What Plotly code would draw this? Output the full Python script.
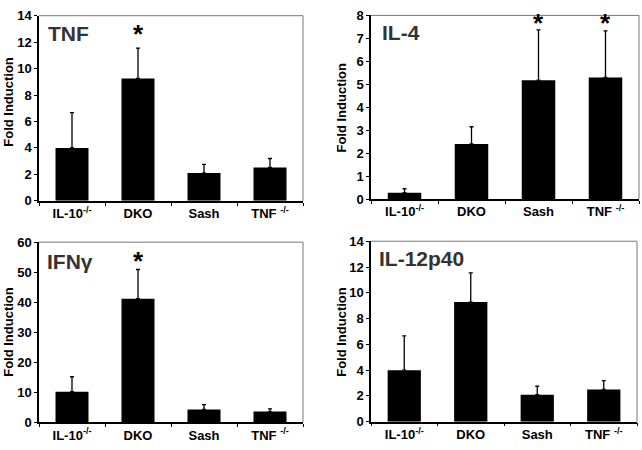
import plotly.graph_objects as go

categories = ["IL-10<sup>-/-</sup>", "DKO", "Sash", "TNF <sup>-/-</sup>"]

tnf_mean = [4.0, 9.25, 2.1, 2.52]
tnf_err_top = [6.67, 11.55, 2.75, 3.2]

il4_mean = [0.28, 2.4, 5.18, 5.3]
il4_err_top = [0.45, 3.15, 7.37, 7.33]

ifng_mean = [10.2, 41.2, 4.3, 3.6]
ifng_err_top = [15.2, 50.9, 5.9, 4.5]

il12_mean = [4.0, 9.28, 2.1, 2.5]
il12_err_top = [6.65, 11.55, 2.75, 3.18]

panel_titles = ["TNF", "IL-4", "IFN\u03b3", "IL-12p40"]
y_ranges = [[0, 14], [0, 8], [0, 60], [0, 14]]
y_dticks = [2, 1, 10, 2]
star_positions = [[("DKO", 12.6)], [("Sash", 7.65), ("TNF <sup>-/-</sup>", 7.65)], [("DKO", 53.8)], []]

W, H = 642, 450
# pixel boxes: left, right, top, bottom
boxes = [(39, 303, 9, 200.5), (371, 639, 8.7, 198.7), (39, 303, 243.3, 429.7), (371, 637, 242.3, 429)]
title_px = [(46, 13), (380, 12), (45, 249), (377, 246)]
ytitle_px = [(9, 98), (342, 104), (9, 336), (342, 336)]

means = [tnf_mean, il4_mean, ifng_mean, il12_mean]
tops = [tnf_err_top, il4_err_top, ifng_err_top, il12_err_top]

FONT = "Liberation Sans, Arial, sans-serif"

fig = go.Figure()
annotations = []
shapes = []
layout = {}
for i in range(4):
    sfx = "" if i == 0 else str(i + 1)
    xa, ya = "x" + sfx, "y" + sfx
    l, r, t, b = boxes[i]
    err = [tp - m for tp, m in zip(tops[i], means[i])]
    fig.add_trace(go.Bar(
        x=categories, y=means[i], xaxis=xa, yaxis=ya,
        marker=dict(color="black", line=dict(width=0)),
        width=0.5,
        error_y=dict(type="data", symmetric=False, array=err, arrayminus=[0] * 4,
                     color="black", thickness=1.3, width=2),
        showlegend=False,
    ))
    layout["xaxis" + sfx] = dict(
        domain=[l / W, r / W], anchor=ya, range=[-0.5, 3.5],
        showline=True, linecolor="black", linewidth=1.5,
        ticks="outside", tickson="boundaries", ticklen=3, tickcolor="black",
        tickfont=dict(family=FONT, size=13, color="black", weight="bold"),
        showgrid=False, fixedrange=True,
    )
    layout["yaxis" + sfx] = dict(
        domain=[1 - b / H, 1 - t / H], anchor=xa, range=y_ranges[i], dtick=y_dticks[i],
        showline=True, linecolor="black", linewidth=1.5,
        ticks="outside", ticklen=3, tickcolor="black",
        tickfont=dict(family=FONT, size=13, color="black", weight="bold"),
        showgrid=False, zeroline=False, fixedrange=True,
    )
    shapes.append(dict(type="line", xref=xa + " domain", yref=ya + " domain",
                       x0=0, x1=1, y0=1, y1=1, line=dict(color="#777777", width=1)))
    shapes.append(dict(type="line", xref=xa + " domain", yref=ya + " domain",
                       x0=1, x1=1, y0=0, y1=1, line=dict(color="#777777", width=1)))
    tx, ty = title_px[i]
    annotations.append(dict(text=panel_titles[i], xref="paper", yref="paper",
                            x=tx / W, y=1 - ty / H, xanchor="left", yanchor="top",
                            showarrow=False,
                            font=dict(family=FONT, size=21, color="#333333", weight="bold")))
    yx, yy = ytitle_px[i]
    annotations.append(dict(text="Fold Induction", xref="paper", yref="paper",
                            x=yx / W, y=1 - yy / H, xanchor="center", yanchor="middle",
                            textangle=-90, showarrow=False,
                            font=dict(family=FONT, size=13, color="black", weight="bold")))
    for cat, yv in star_positions[i]:
        annotations.append(dict(text="*", xref=xa, yref=ya, x=cat, y=yv,
                                xanchor="center", yanchor="middle", showarrow=False,
                                font=dict(family=FONT, size=26, color="black", weight="bold")))

fig.update_layout(
    width=W, height=H, margin=dict(l=0, r=0, t=0, b=0),
    paper_bgcolor="white", plot_bgcolor="white",
    annotations=annotations, shapes=shapes, bargap=0.5,
    **layout,
)
fig.write_html("out.html", config={"displayModeBar": False},
               post_script="document.body.style.margin='0px';")
